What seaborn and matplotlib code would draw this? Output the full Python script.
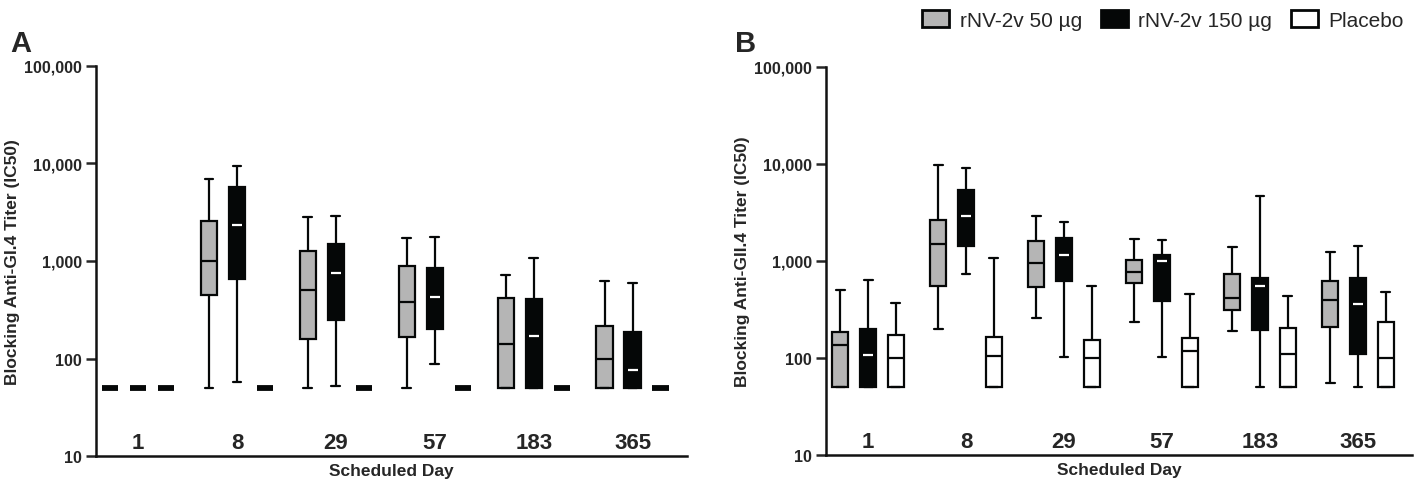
import numpy as np
import pandas as pd
import matplotlib
matplotlib.use('Agg')
import matplotlib.pyplot as plt
import seaborn as sns

# five-number summaries: [whisker low, Q1, median, Q3, whisker high]
days = ['1', '8', '29', '57', '183', '365']
groups = ['rNV-2v 50 µg', 'rNV-2v 150 µg', 'Placebo']
colors = ['#b5b5b5', '#050707', '#ffffff']
median_colors = ['#050707', '#ffffff', '#050707']

gi4_50 = [[50, 50, 50, 50, 280], [50, 444, 1000, 2580, 6900], [50, 157, 505, 1280, 2840],
          [50, 166, 380, 883, 1740], [50, 50, 142, 421, 713], [50, 50, 100, 217, 624]]
gi4_150 = [[50, 50, 50, 50, 146], [58, 655, 2330, 5680, 9400], [52, 246, 755, 1500, 2870],
           [88, 199, 430, 855, 1760], [50, 50, 170, 411, 1084], [50, 50, 76, 187, 590]]
gi4_pla = [[50, 50, 50, 50, 50], [50, 50, 50, 50, 50], [50, 50, 50, 50, 50],
           [50, 50, 50, 50, 50], [50, 50, 50, 50, 50], [50, 50, 50, 50, 101]]

gii4_50 = [[50, 50, 136, 183, 502], [198, 545, 1490, 2630, 9770], [255, 532, 940, 1597, 2910],
           [235, 585, 770, 1016, 1675], [190, 310, 410, 725, 1374], [55, 206, 394, 618, 1240]]
gii4_150 = [[50, 50, 107, 198, 637], [725, 1406, 2890, 5400, 9100], [102, 618, 1153, 1714, 2490],
            [101, 387, 1000, 1145, 1650], [50, 193, 552, 659, 4610], [50, 109, 358, 659, 1430]]
gii4_pla = [[50, 50, 100, 171, 366], [50, 50, 104, 165, 1067], [50, 50, 100, 152, 552],
            [50, 50, 118, 158, 451], [50, 50, 109, 202, 429], [50, 50, 100, 233, 475]]


def to_long(series_list):
    rows = []
    for g, series in zip(groups, series_list):
        for d, vals in zip(days, series):
            for v in vals:
                rows.append({'day': d, 'group': g, 'titer': v})
    return pd.DataFrame(rows)


sns.set_style('ticks')
plt.rcParams['font.family'] = ['Liberation Sans', 'DejaVu Sans']

fig = plt.figure(figsize=(14.17, 4.85), dpi=100)
axA = fig.add_axes([0.0675, 0.0577, 0.4173, 0.8042])
axB = fig.add_axes([0.5829, 0.0604, 0.4135, 0.8000])


def draw(ax, series_list, ylabel, show_legend):
    df = to_long(series_list)
    sns.boxplot(data=df, x='day', y='titer', hue='group', order=days, hue_order=groups,
                palette=colors, whis=np.inf, width=0.85, gap=0.42, linewidth=1.6,
                linecolor='#050707', log_scale=True, showfliers=False,
                legend=show_legend, ax=ax)
    for k, cont in enumerate(ax.containers):
        for med, box, vals in zip(cont.medians, cont.boxes, series_list[k]):
            med.set_color(median_colors[k])
            if k == 1:
                xd = med.get_xdata()
                c, h = np.mean(xd), (xd[1] - xd[0]) / 2 * 0.62
                med.set_xdata([c - h, c + h])
            if vals[1] == vals[3]:
                box.set_linewidth(4.2)
                box.set_facecolor('#050707')
                med.set_visible(False)
        for cap in cont.caps:
            xd = cap.get_xdata()
            c = np.mean(xd)
            cap.set_xdata([c - 0.045, c + 0.045])
    ax.set_ylim(10, 100000)
    ax.set_xlim(-0.43, 5.55)
    ax.set_yticks([10, 100, 1000, 10000, 100000],
                  labels=['10', '100', '1,000', '10,000', '100,000'])
    ax.yaxis.set_minor_locator(matplotlib.ticker.NullLocator())
    ax.tick_params(axis='y', length=7, width=1.8, labelsize=11.5, pad=3)
    for t in ax.get_yticklabels():
        t.set_fontweight('bold')
    ax.set_xticks(range(len(days)), labels=days)
    ax.tick_params(axis='x', length=0, labelsize=16, pad=-17)
    for t in ax.get_xticklabels():
        t.set_fontweight('bold')
    ax.set_xlabel('Scheduled Day', fontsize=12.5, fontweight='bold', labelpad=5)
    ax.set_ylabel(ylabel, fontsize=12.5, fontweight='bold', labelpad=3)
    for s in ['left', 'bottom']:
        ax.spines[s].set_linewidth(1.8)
        ax.spines[s].set_color('#111111')
    sns.despine(ax=ax)


draw(axA, [gi4_50, gi4_150, gi4_pla], 'Blocking Anti-GI.4 Titer (IC50)', False)
draw(axB, [gii4_50, gii4_150, gii4_pla], 'Blocking Anti-GII.4 Titer (IC50)', True)

sns.move_legend(axB, 'center right', bbox_to_anchor=(1.0, 1.12), ncol=3, frameon=False,
                title=None, fontsize=15, handlelength=1.3, handleheight=0.85,
                handletextpad=0.5, columnspacing=0.9, borderaxespad=0)
for h in axB.get_legend().get_patches():
    h.set_linewidth(2)
    h.set_edgecolor('#050707')

fig.text(0.007, 0.91, 'A', fontsize=21, fontweight='bold', va='center')
fig.text(0.519, 0.91, 'B', fontsize=21, fontweight='bold', va='center')

plt.savefig('out.png', dpi=100)
